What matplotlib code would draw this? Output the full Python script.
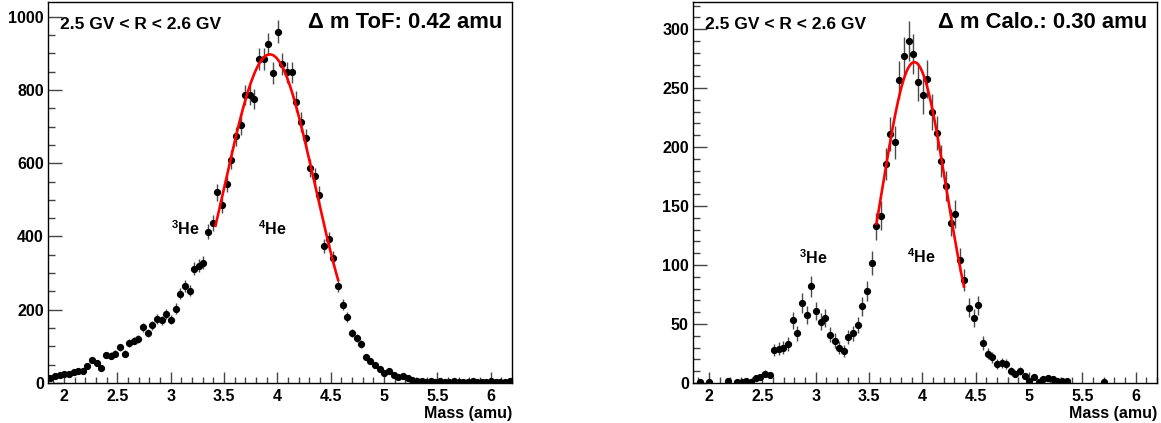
import numpy as np
import matplotlib
matplotlib.use("Agg")
import matplotlib.pyplot as plt
from matplotlib.ticker import MultipleLocator

plt.rcParams["font.family"] = ["Liberation Sans", "DejaVu Sans"]
plt.rcParams["font.weight"] = "bold"
plt.rcParams["mathtext.fontset"] = "custom"
plt.rcParams["mathtext.rm"] = "Liberation Sans:bold"
plt.rcParams["mathtext.it"] = "Liberation Sans:bold"
plt.rcParams["mathtext.bf"] = "Liberation Sans:bold"

# ── Histogram binning (100 bins in reconstructed mass) ──────────────────────
mass_lo, mass_hi, n_bins = 1.85, 6.2, 100

# counts per bin, mass from ToF velocity
tof_counts = [
    14, 18, 21, 24, 25, 29, 32, 32, 47, 64,
    55, 41, 77, 75, 80, 97, 80, 109, 116, 120,
    152, 136, 157, 175, 171, 188, 173, 203, 244, 264,
    252, 312, 320, 328, 413, 437, 520, 487, 544, 610,
    674, 704, 786, 787, 775, 885, 885, 925, 846, 959,
    871, 848, 848, 768, 712, 668, 586, 564, 514, 375,
    393, 341, 264, 214, 180, 137, 123, 107, 70, 61,
    48, 39, 27, 33, 21, 16, 19, 14, 9, 6,
    6, 4, 5, 3, 5, 4, 3, 5, 4, 3,
    4, 5, 3, 4, 3, 5, 4, 3, 4, 5,
]

# counts per bin, mass from calorimeter
calo_counts = [
    0, 1, 0, 1, 0, 0, 0, 2, 0, 1,
    1, 2, 1, 4, 5, 8, 7, 28, 29, 30,
    33, 53, 42, 68, 58, 82, 61, 52, 55, 41,
    36, 30, 27, 39, 42, 49, 65, 78, 102, 133,
    142, 186, 211, 204, 257, 277, 290, 279, 255, 244,
    258, 230, 212, 188, 167, 136, 143, 104, 87, 64,
    55, 66, 34, 25, 22, 16, 17, 16, 10, 8,
    10, 6, 2, 5, 1, 3, 4, 3, 2, 2,
    2, 0, 0, 0, 0, 0, 0, 0, 1, 0,
    0, 0, 0, 0, 0, 0, 0, 0, 0, 0,
]

# Gaussian fits to the 4He peak: amplitude, mean, sigma, fit range
tof_fit = dict(amp=897, mean=3.93, sigma=0.42, lo=3.42, hi=4.57)
calo_fit = dict(amp=272, mean=3.925, sigma=0.30, lo=3.57, hi=4.39)

rigidity_label = "2.5 GV < R < 2.6 GV"
panels = [
    dict(counts=tof_counts, fit=tof_fit, ymax=1040, ymajor=200, yminor=50,
         reso="\u0394 m ToF: 0.42 amu",
         he3=(0.265, 0.388), he4=(0.4526, 0.388), left=48),
    dict(counts=calo_counts, fit=calo_fit, ymax=323, ymajor=50, yminor=10,
         reso="\u0394 m Calo.: 0.30 amu",
         he3=(0.228, 0.312), he4=(0.461, 0.315), left=693),
]

W, H = 1161, 423
fig = plt.figure(figsize=(W / 100, H / 100), dpi=100)
fig.patch.set_facecolor("white")

edges = np.linspace(mass_lo, mass_hi, n_bins + 1)
centers = 0.5 * (edges[:-1] + edges[1:])

for p in panels:
    ax = fig.add_axes([p["left"] / W, 40 / H, 464 / W, 381 / H])
    counts = np.array(p["counts"], dtype=float)
    keep = counts > 0
    ax.errorbar(centers[keep], counts[keep], yerr=np.sqrt(counts[keep]),
                fmt="o", ms=4.2, mfc="black", mec="black", ecolor="#4a4a4a",
                elinewidth=1.0, capsize=0, zorder=3)

    f = p["fit"]
    xf = np.linspace(f["lo"], f["hi"], 200)
    yf = f["amp"] * np.exp(-0.5 * ((xf - f["mean"]) / f["sigma"]) ** 2)
    ax.plot(xf, yf, color="#ff0000", lw=1.9, zorder=4)

    ax.set_xlim(mass_lo, mass_hi)
    ax.set_ylim(0, p["ymax"])
    ax.xaxis.set_major_locator(MultipleLocator(0.5))
    ax.xaxis.set_minor_locator(MultipleLocator(0.1))
    ax.yaxis.set_major_locator(MultipleLocator(p["ymajor"]))
    ax.yaxis.set_minor_locator(MultipleLocator(p["yminor"]))
    ax.xaxis.set_major_formatter(plt.FuncFormatter(lambda v, _: f"{v:g}"))

    ax.tick_params(axis="both", which="both", direction="in", top=False,
                   right=False, color="#444444", width=1.0, labelsize=11.5)
    ax.tick_params(axis="y", which="major", length=10, pad=3)
    ax.tick_params(axis="y", which="minor", length=5)
    ax.tick_params(axis="x", which="major", length=8.2, pad=4)
    ax.tick_params(axis="x", which="minor", length=4.1)
    for lab in ax.get_xticklabels() + ax.get_yticklabels():
        lab.set_fontweight("bold")
    for s in ax.spines.values():
        s.set_linewidth(1.0)
        s.set_color("black")

    ax.text(0.025, 0.94, rigidity_label, transform=ax.transAxes,
            ha="left", va="center", fontsize=12.5, fontweight="bold")
    ax.text(0.978, 0.947, p["reso"], transform=ax.transAxes,
            ha="right", va="center", fontsize=15.8, fontweight="bold")
    ax.text(*p["he3"], r"$^{3}$He", transform=ax.transAxes,
            ha="left", va="baseline", fontsize=11.5, fontweight="bold")
    ax.text(*p["he4"], r"$^{4}$He", transform=ax.transAxes,
            ha="left", va="baseline", fontsize=11.5, fontweight="bold")
    ax.text(1.0, -0.079, "Mass (amu)", transform=ax.transAxes,
            ha="right", va="center", fontsize=11.5, fontweight="bold")

fig.savefig("out.png", dpi=100)
